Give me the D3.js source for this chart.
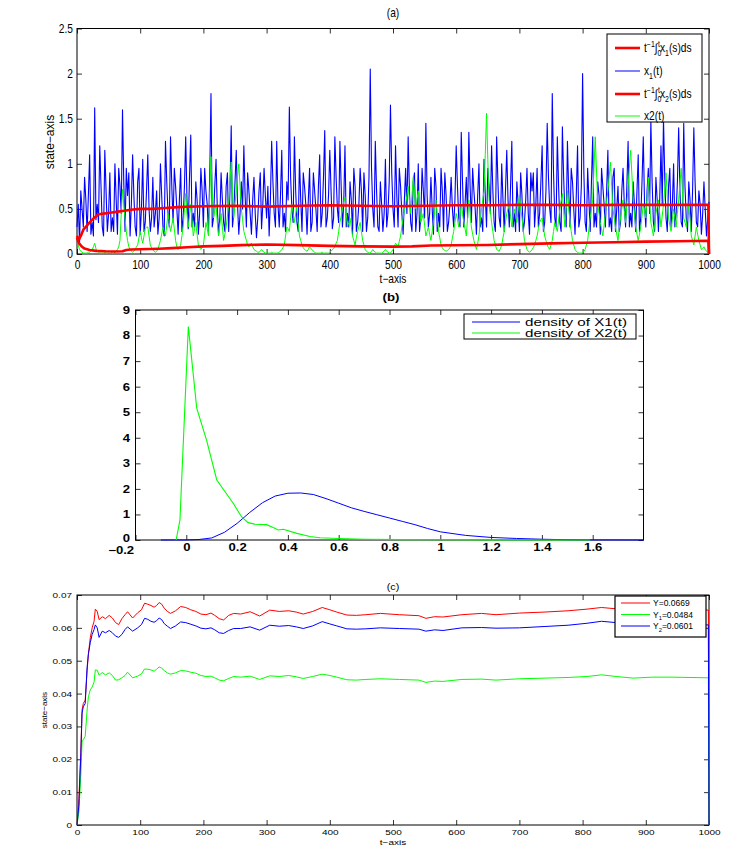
<!DOCTYPE html>
<html>
<head>
<meta charset="utf-8">
<script src="https://cdn.jsdelivr.net/npm/d3@7"></script>
<style>
  body { margin: 0; background: #fff; }
  svg { display: block; }
</style>
</head>
<body>
<svg id="chart" width="751" height="852"></svg>
<script>
// ---------- panel (a): sample paths ----------
// values at t = 0, 4, 8, ..., 1000
const x1Path = [
  0.30, 0.12, 0.50, 0.85, 0.25, 1.10, 0.35, 1.62, 0.55, 1.20,
  0.30, 1.15, 0.25, 0.90, 0.40, 1.00, 0.22, 0.75, 1.60, 0.25,
  0.65, 0.20, 1.10, 0.30, 0.80, 0.22, 1.05, 0.35, 1.10, 0.25,
  0.85, 0.45, 0.22, 1.00, 0.30, 1.25, 0.45, 1.30, 0.35, 0.75,
  0.22, 0.95, 0.40, 1.30, 0.28, 1.32, 0.45, 0.80, 0.22, 0.95,
  0.30, 0.70, 0.25, 1.78, 0.40, 1.05, 0.22, 0.90, 0.35, 0.75,
  0.25, 1.42, 0.45, 1.15, 0.22, 0.80, 1.20, 0.30, 0.70, 0.22,
  0.85, 0.18, 0.70, 0.28, 0.95, 0.40, 0.20, 1.25, 0.45, 1.25,
  0.30, 1.15, 0.45, 0.80, 1.63, 0.50, 1.30, 0.35, 1.05, 0.25,
  0.75, 0.22, 0.95, 0.35, 0.70, 0.25, 1.10, 0.45, 1.37, 0.40,
  1.15, 0.28, 1.30, 0.50, 1.25, 0.30, 1.20, 0.45, 0.80, 0.22,
  0.75, 0.35, 0.95, 0.25, 0.65, 0.40, 2.05, 0.50, 1.25, 0.30,
  0.80, 0.25, 1.05, 0.45, 1.65, 0.50, 1.20, 0.30, 0.75, 0.22,
  0.95, 1.30, 0.35, 0.80, 0.25, 1.00, 0.40, 0.70, 1.45, 0.30,
  0.85, 0.22, 0.75, 0.45, 0.95, 0.25, 0.65, 0.35, 0.85, 0.30,
  1.20, 0.40, 1.35, 0.30, 0.85, 1.35, 0.35, 0.70, 0.22, 1.00,
  0.40, 1.05, 0.30, 0.75, 1.20, 0.35, 1.30, 0.40, 1.00, 0.25,
  1.15, 0.30, 1.25, 0.45, 0.80, 0.25, 0.65, 0.35, 0.95, 0.22,
  0.70, 0.30, 0.95, 0.45, 1.20, 0.35, 1.45, 0.50, 1.78, 0.40,
  1.30, 0.35, 1.41, 0.45, 1.25, 0.30, 0.80, 0.22, 1.20, 0.40,
  2.00, 0.35, 0.95, 0.25, 1.30, 0.45, 0.80, 0.22, 0.75, 0.30,
  1.15, 0.40, 0.85, 0.25, 0.75, 0.35, 0.95, 0.30, 1.25, 0.45,
  0.80, 0.25, 1.10, 0.40, 1.30, 0.30, 0.95, 1.48, 0.35, 0.85,
  0.25, 1.20, 1.50, 0.40, 0.75, 0.30, 1.00, 0.45, 1.40, 0.35,
  1.45, 0.40, 0.80, 0.25, 1.40, 0.35, 0.70, 0.22, 0.80, 0.20,
  0.58
];
// values at t = 2, 6, 10, ..., 998
const x1Mid = [
  0.55, 0.70, 0.30, 0.60, 0.65, 0.22, 0.20, 0.38, 0.35, 0.75,
  0.20, 0.70, 0.45, 0.25, 0.25, 0.60, 0.95, 0.45, 0.80, 0.95,
  0.90, 0.55, 0.65, 0.20, 0.95, 0.50, 0.25, 0.70, 0.50, 0.40,
  0.30, 0.70, 0.40, 0.65, 0.20, 0.80, 0.30, 0.75, 0.95, 0.50,
  0.60, 0.25, 0.75, 0.60, 0.85, 0.30, 0.30, 0.60, 0.45, 0.70,
  0.95, 0.55, 0.85, 0.30, 0.75, 0.50, 0.40, 0.60, 0.25, 0.90,
  0.70, 0.30, 0.80, 0.55, 0.45, 0.50, 0.65, 0.90, 0.45, 0.60,
  0.45, 0.40, 0.90, 0.55, 0.65, 0.75, 0.60, 0.80, 0.30, 0.55,
  0.65, 0.30, 0.25, 0.60, 0.85, 0.35, 0.70, 0.25, 0.60, 0.90,
  0.55, 0.60, 0.25, 0.90, 0.50, 0.75, 0.30, 0.85, 0.30, 0.65,
  0.70, 0.40, 0.85, 0.35, 0.75, 0.55, 0.30, 0.30, 0.60, 0.95,
  0.25, 0.55, 0.70, 0.90, 0.25, 0.85, 0.95, 0.30, 0.70, 0.25,
  0.55, 0.45, 0.30, 0.80, 0.90, 0.30, 0.65, 0.95, 0.45, 0.60,
  0.45, 0.70, 0.25, 0.90, 0.45, 0.25, 0.95, 0.40, 0.65, 0.45,
  0.50, 0.95, 0.25, 0.30, 0.70, 0.90, 0.25, 0.55, 0.50, 0.60,
  0.75, 0.30, 0.80, 0.55, 0.40, 0.75, 0.95, 0.50, 0.65, 0.30,
  0.25, 0.65, 0.95, 0.45, 0.70, 0.25, 0.80, 0.30, 0.60, 0.70,
  0.60, 0.75, 0.30, 0.25, 0.55, 0.90, 0.25, 0.60, 0.45, 0.90,
  0.90, 0.55, 0.30, 0.80, 0.25, 0.70, 0.85, 0.35, 0.90, 0.30,
  0.75, 0.25, 0.85, 0.30, 0.70, 0.95, 0.50, 0.65, 0.30, 0.75,
  0.90, 0.25, 0.60, 0.80, 0.30, 0.30, 0.65, 0.95, 0.55, 0.70,
  0.30, 0.25, 0.95, 0.50, 0.25, 0.70, 0.55, 0.75, 0.30, 0.30,
  0.55, 0.70, 0.25, 0.80, 0.55, 0.70, 0.45, 0.80, 0.25, 0.60,
  0.60, 0.55, 0.85, 0.25, 0.95, 0.55, 0.30, 0.80, 0.70, 0.30,
  0.75, 0.25, 0.60, 0.70, 0.80, 0.30, 0.55, 0.45, 0.50, 0.40
];
const x2Path = [
  0.20, 0.05, 0.02, 0.01, 0.01, 0.02, 0.05, 0.12, 0.03, 0.01,
  0.01, 0.02, 0.01, 0.03, 0.01, 0.02, 0.05, 0.15, 0.72, 0.40,
  0.15, 0.05, 0.02, 0.05, 0.10, 0.25, 0.12, 0.28, 0.30, 0.10,
  0.05, 0.02, 0.05, 0.15, 0.30, 0.20, 0.45, 0.25, 0.40, 0.15,
  0.05, 0.10, 0.30, 0.67, 0.30, 0.55, 0.20, 0.35, 0.10, 0.05,
  0.10, 0.35, 0.20, 1.08, 0.40, 0.55, 0.20, 0.45, 0.15, 0.30,
  0.55, 1.02, 0.40, 0.70, 1.00, 0.50, 0.25, 0.15, 0.08, 0.12,
  0.05, 0.03, 0.02, 0.05, 0.02, 0.01, 0.01, 0.02, 0.01, 0.01,
  0.02, 0.05, 0.10, 0.30, 0.25, 0.55, 0.35, 0.52, 0.20, 0.10,
  0.05, 0.03, 0.08, 0.05, 0.02, 0.01, 0.01, 0.02, 0.01, 0.01,
  0.02, 0.05, 0.08, 0.15, 0.35, 0.50, 0.63, 0.30, 0.40, 0.20,
  0.10, 0.25, 0.35, 0.15, 0.05, 0.02, 0.01, 0.05, 0.02, 0.01,
  0.01, 0.02, 0.05, 0.02, 0.01, 0.05, 0.12, 0.08, 0.20, 0.40,
  0.55, 0.75, 0.45, 0.85, 0.50, 0.70, 0.35, 0.45, 0.20, 0.30,
  0.15, 0.35, 0.60, 0.25, 0.10, 0.05, 0.03, 0.05, 0.10, 0.25,
  0.45, 0.30, 0.55, 0.35, 0.20, 0.60, 0.30, 0.15, 0.05, 0.20,
  0.50, 0.70, 1.56, 0.60, 0.35, 0.15, 0.05, 0.03, 0.10, 0.25,
  0.45, 0.55, 0.30, 0.50, 0.35, 0.65, 0.40, 0.15, 0.05, 0.02,
  0.05, 0.10, 0.20, 0.35, 0.40, 0.20, 0.10, 0.05, 0.15, 0.35,
  0.25, 0.50, 0.67, 0.30, 0.70, 0.35, 0.15, 0.05, 0.02, 0.01,
  0.02, 0.05, 0.15, 0.40, 0.60, 1.30, 0.55, 0.35, 0.20, 0.45,
  0.70, 1.02, 0.50, 0.30, 0.15, 0.40, 0.60, 0.35, 0.75, 1.15,
  0.60, 0.30, 0.15, 0.30, 0.55, 0.40, 0.85, 0.35, 0.20, 0.45,
  0.60, 0.30, 0.55, 0.90, 0.40, 0.25, 0.50, 0.30, 0.60, 0.95,
  0.40, 0.30, 0.55, 0.20, 0.10, 0.30, 0.15, 0.05, 0.08, 0.03,
  0.02
];
const x2Mid = [
  0.10, 0.03, 0.01, 0.01, 0.02, 0.03, 0.08, 0.06, 0.02, 0.01,
  0.01, 0.01, 0.02, 0.02, 0.01, 0.03, 0.08, 0.45, 0.55, 0.25,
  0.08, 0.03, 0.03, 0.08, 0.18, 0.18, 0.20, 0.30, 0.20, 0.07,
  0.03, 0.03, 0.10, 0.22, 0.25, 0.32, 0.35, 0.32, 0.28, 0.08,
  0.07, 0.20, 0.50, 0.45, 0.42, 0.38, 0.28, 0.22, 0.07, 0.07,
  0.22, 0.28, 0.65, 0.70, 0.48, 0.35, 0.32, 0.30, 0.22, 0.42,
  0.80, 0.70, 0.55, 0.85, 0.75, 0.38, 0.20, 0.10, 0.10, 0.08,
  0.04, 0.02, 0.03, 0.03, 0.01, 0.01, 0.01, 0.01, 0.01, 0.01,
  0.03, 0.07, 0.20, 0.28, 0.40, 0.45, 0.45, 0.35, 0.15, 0.07,
  0.04, 0.05, 0.06, 0.03, 0.01, 0.01, 0.01, 0.01, 0.01, 0.01,
  0.03, 0.06, 0.12, 0.25, 0.42, 0.58, 0.45, 0.35, 0.30, 0.15,
  0.18, 0.30, 0.25, 0.10, 0.03, 0.01, 0.03, 0.03, 0.01, 0.01,
  0.01, 0.03, 0.03, 0.01, 0.03, 0.08, 0.10, 0.14, 0.30, 0.48,
  0.65, 0.60, 0.65, 0.68, 0.60, 0.52, 0.40, 0.32, 0.25, 0.22,
  0.25, 0.48, 0.42, 0.18, 0.07, 0.04, 0.04, 0.07, 0.18, 0.35,
  0.38, 0.42, 0.45, 0.28, 0.40, 0.45, 0.22, 0.10, 0.12, 0.35,
  0.60, 1.10, 1.05, 0.48, 0.25, 0.10, 0.04, 0.06, 0.18, 0.35,
  0.50, 0.42, 0.40, 0.42, 0.50, 0.52, 0.28, 0.10, 0.03, 0.03,
  0.07, 0.15, 0.28, 0.38, 0.30, 0.15, 0.07, 0.10, 0.25, 0.30,
  0.38, 0.58, 0.48, 0.50, 0.52, 0.25, 0.10, 0.03, 0.01, 0.01,
  0.03, 0.10, 0.28, 0.50, 0.95, 0.92, 0.45, 0.28, 0.32, 0.58,
  0.85, 0.75, 0.40, 0.22, 0.28, 0.50, 0.48, 0.55, 0.95, 0.88,
  0.45, 0.22, 0.22, 0.42, 0.48, 0.62, 0.60, 0.28, 0.32, 0.52,
  0.45, 0.42, 0.72, 0.65, 0.32, 0.38, 0.40, 0.45, 0.78, 0.68,
  0.35, 0.42, 0.38, 0.15, 0.20, 0.22, 0.10, 0.06, 0.05, 0.02
];

// running means (smooth, read at irregular times)
const mean1T = [0, 3, 6, 10, 15, 20, 27, 34, 45, 55, 65, 75, 85, 100, 120, 140, 160, 180, 200, 250,
                300, 350, 400, 450, 500, 550, 600, 650, 700, 750, 800, 850, 900, 950, 999, 1000];
const mean1 = [0.20, 0.16, 0.20, 0.27, 0.31, 0.35, 0.40, 0.44, 0.45, 0.46, 0.47, 0.48, 0.49, 0.50, 0.50, 0.51, 0.52, 0.525, 0.53, 0.535,
               0.525, 0.535, 0.54, 0.535, 0.53, 0.535, 0.54, 0.54, 0.545, 0.545, 0.54, 0.545, 0.545, 0.545, 0.545, 0];
const mean2T = [0, 3, 8, 12, 20, 30, 45, 60, 72, 78, 85, 100, 130, 150, 175, 200, 230, 260, 300, 350,
                400, 450, 500, 530, 560, 600, 650, 700, 750, 800, 850, 900, 950, 999, 1000];
const mean2 = [0.18, 0.12, 0.08, 0.06, 0.045, 0.035, 0.03, 0.028, 0.03, 0.045, 0.05, 0.052, 0.058, 0.065, 0.075, 0.085, 0.09, 0.098, 0.105, 0.098,
               0.09, 0.085, 0.082, 0.085, 0.095, 0.097, 0.10, 0.11, 0.118, 0.125, 0.13, 0.137, 0.142, 0.147, 0];

const aTicksX = [0, 100, 200, 300, 400, 500, 600, 700, 800, 900, 1000];
const aTicksY = [0, 0.5, 1, 1.5, 2, 2.5];

// ---------- panel (b): densities ----------
const dens1X = [-0.1, 0, 0.05, 0.1, 0.15, 0.2, 0.25, 0.3, 0.35, 0.4, 0.45, 0.5, 0.55, 0.6, 0.65, 0.7, 0.75, 0.8, 0.85, 0.9,
                0.95, 1.0, 1.05, 1.1, 1.2, 1.3, 1.4, 1.5, 1.6, 1.8];
const dens1Y = [0, 0.003, 0.02, 0.08, 0.3, 0.65, 1.08, 1.46, 1.72, 1.83, 1.84, 1.78, 1.62, 1.44, 1.26, 1.12, 0.99, 0.86, 0.73, 0.6,
                0.45, 0.32, 0.25, 0.18, 0.1, 0.06, 0.03, 0.01, 0.003, 0];
const dens2X = [-0.04, -0.025, 0.008, 0.041, 0.08, 0.12, 0.152, 0.184, 0.218, 0.243, 0.27, 0.316, 0.34, 0.362, 0.382,
                0.435, 0.487, 0.526, 0.6, 0.7, 0.85, 1.0, 1.2, 1.4, 1.59];
const dens2Y = [0, 0.78, 8.35, 5.16, 3.9, 2.35, 1.9, 1.45, 0.9, 0.68, 0.62, 0.6, 0.5, 0.39, 0.42,
                0.26, 0.14, 0.09, 0.06, 0.03, 0.015, 0.01, 0.005, 0.002, 0];
const bTicksX = [-0.2, 0, 0.2, 0.4, 0.6, 0.8, 1, 1.2, 1.4, 1.6];
const bTicksY = [0, 1, 2, 3, 4, 5, 6, 7, 8, 9];

// ---------- panel (c): time averages ----------
const cT = [0, 3, 6, 8, 10, 13, 16, 18, 21, 24,
            27, 29, 32, 35, 40, 45, 51, 56, 61, 66,
            71, 76, 80, 88, 96, 102, 107, 112, 117, 122,
            126, 130, 134, 138, 143, 148, 156, 164, 172, 180,
            188, 196, 204, 212, 218, 225, 232, 240, 248, 259,
            274, 289, 305, 320, 335, 347, 358, 373, 388, 400,
            411, 427, 442, 457, 480, 510, 541, 552, 566, 579,
            609, 640, 663, 700, 739, 777, 807, 830, 853, 880,
            910, 940, 970, 999, 1000];
const yAll = [0.000, 0.008, 0.022, 0.035, 0.037, 0.038, 0.047, 0.052, 0.057, 0.060,
              0.062, 0.0657, 0.0650, 0.0625, 0.0634, 0.0628, 0.0638, 0.0630, 0.0616, 0.0610,
              0.0628, 0.0640, 0.0649, 0.0630, 0.0646, 0.0655, 0.0675, 0.0672, 0.0668, 0.0663,
              0.0668, 0.0677, 0.0672, 0.0660, 0.0650, 0.0644, 0.0652, 0.0665, 0.0662, 0.0655,
              0.0650, 0.0642, 0.0640, 0.0645, 0.0638, 0.0628, 0.0624, 0.0638, 0.0644, 0.0642,
              0.0649, 0.0636, 0.0654, 0.0650, 0.0652, 0.0648, 0.0642, 0.0650, 0.0662, 0.0655,
              0.0648, 0.0639, 0.0638, 0.0640, 0.0644, 0.0640, 0.0637, 0.0629, 0.0634, 0.0633,
              0.0640, 0.0644, 0.0640, 0.0645, 0.0648, 0.0652, 0.0657, 0.0662, 0.0658, 0.0652,
              0.0650, 0.0655, 0.0656, 0.0654, 0];
const y1All = [0.000, 0.004, 0.015, 0.0253, 0.026, 0.027, 0.035, 0.039, 0.0411, 0.042,
               0.0435, 0.0472, 0.0471, 0.0456, 0.0464, 0.0457, 0.0463, 0.0455, 0.0441, 0.0442,
               0.0448, 0.0455, 0.0465, 0.0448, 0.0453, 0.0460, 0.0475, 0.0474, 0.0472, 0.0468,
               0.0474, 0.0481, 0.0477, 0.0470, 0.0463, 0.0459, 0.0463, 0.0470, 0.0469, 0.0465,
               0.0462, 0.0455, 0.0452, 0.0453, 0.0448, 0.0441, 0.0439, 0.0446, 0.0452, 0.0450,
               0.0453, 0.0443, 0.0454, 0.0452, 0.0455, 0.0451, 0.0446, 0.0452, 0.0459, 0.0455,
               0.0450, 0.0442, 0.0441, 0.0443, 0.0445, 0.0443, 0.0441, 0.0434, 0.0438, 0.0437,
               0.0443, 0.0444, 0.0441, 0.0445, 0.0447, 0.0449, 0.0452, 0.0457, 0.0452, 0.0447,
               0.0450, 0.0450, 0.0449, 0.0448, 0];
const y2All = [0.000, 0.006, 0.021, 0.034, 0.036, 0.037, 0.048, 0.052, 0.0555, 0.058,
               0.0595, 0.0609, 0.0600, 0.0571, 0.0590, 0.0585, 0.0592, 0.0585, 0.0575, 0.0571,
               0.0580, 0.0595, 0.0603, 0.0590, 0.0600, 0.0610, 0.0629, 0.0626, 0.0620, 0.0617,
               0.0622, 0.0630, 0.0625, 0.0613, 0.0605, 0.0598, 0.0606, 0.0618, 0.0616, 0.0611,
               0.0606, 0.0599, 0.0597, 0.0600, 0.0594, 0.0585, 0.0583, 0.0592, 0.0598, 0.0598,
               0.0603, 0.0593, 0.0608, 0.0605, 0.0607, 0.0603, 0.0598, 0.0606, 0.0619, 0.0612,
               0.0606, 0.0597, 0.0596, 0.0597, 0.0600, 0.0598, 0.0596, 0.0590, 0.0594, 0.0592,
               0.0600, 0.0601, 0.0599, 0.0600, 0.0604, 0.0608, 0.0614, 0.0620, 0.0616, 0.0612,
               0.0609, 0.0611, 0.0610, 0.0609, 0];
const cTicksX = [0, 100, 200, 300, 400, 500, 600, 700, 800, 900, 1000];
const cTicksY = [0, 0.01, 0.02, 0.03, 0.04, 0.05, 0.06, 0.07];

const FONT = "'Liberation Sans', Arial, Helvetica, sans-serif";
const RED = "#ff0000", BLUE = "#0000ff", GREEN = "#00ff00";

const svg = d3.select("#chart");

// boxed MATLAB-style axes with inward ticks on all four sides
function boxAxes(x, y, cfg) {
  const g = svg.append("g");
  const [x0, x1] = x.range();
  const [y0, y1] = y.range();
  const bottom = g.append("g").attr("transform", `translate(0,${y0})`)
    .call(d3.axisBottom(x).tickValues(cfg.xTicks).tickSize(-5).tickPadding(cfg.padX).tickFormat(cfg.fmtX));
  g.append("g").attr("transform", `translate(0,${y1})`)
    .call(d3.axisTop(x).tickValues(cfg.xTicks).tickSize(-5).tickFormat(""));
  const left = g.append("g").attr("transform", `translate(${x0},0)`)
    .call(d3.axisLeft(y).tickValues(cfg.yTicks).tickSize(-5).tickPadding(cfg.padY).tickFormat(cfg.fmtY));
  g.append("g").attr("transform", `translate(${x1},0)`)
    .call(d3.axisRight(y).tickValues(cfg.yTicks).tickSize(-5).tickFormat(""));
  g.selectAll(".domain").remove();
  g.selectAll(".tick line").attr("stroke", "#333");
  g.selectAll("text")
    .attr("font-family", FONT)
    .attr("font-size", cfg.fs)
    .attr("font-weight", cfg.fw || "normal")
    .attr("fill", "#000");
  bottom.selectAll("text").attr("transform", `scale(${cfg.sx},1)`);
  left.selectAll("text").attr("x", -cfg.padY / cfg.sx).attr("transform", `scale(${cfg.sx},1)`);
  g.append("rect")
    .attr("x", x0).attr("y", y1)
    .attr("width", x1 - x0).attr("height", y0 - y1)
    .attr("fill", "none").attr("stroke", "#000").attr("stroke-width", 1);
  return { g, bottom, left };
}

function label(txt, x, y, fs, sx, opts = {}) {
  return svg.append("text")
    .attr("transform", `translate(${x},${y})${opts.rotate ? " rotate(-90)" : ""} scale(${sx},1)`)
    .attr("text-anchor", "middle")
    .attr("font-family", FONT)
    .attr("font-size", fs)
    .attr("font-weight", opts.fw || "normal")
    .attr("fill", "#000")
    .text(txt);
}

// text with sub/superscripts (MATLAB tex style)
function rich(x, y, parts, fs, sx) {
  const t = svg.append("text")
    .attr("transform", `translate(${x},${y}) scale(${sx},1)`)
    .attr("font-family", FONT)
    .attr("font-size", fs)
    .attr("fill", "#000");
  let level = 0;
  parts.forEach(p => {
    const target = p.sub ? fs * 0.32 : p.sup ? -fs * 0.42 : 0;
    const s = t.append("tspan")
      .attr("dy", target - level)
      .attr("font-size", (p.sub || p.sup) ? fs * 0.68 : fs)
      .text(p.t);
    if (p.dx) s.attr("dx", p.dx);
    level = target;
  });
  return t;
}

const plain = d => String(d);

// ================= (a) =================
const xA = d3.scaleLinear().domain([0, 1000]).range([77, 709]);
const yA = d3.scaleLinear().domain([0, 2.5]).range([254, 28.5]);

boxAxes(xA, yA, { xTicks: aTicksX, yTicks: aTicksY, fmtX: plain, fmtY: plain,
                  fs: 12, sx: 0.85, padX: 6.5, padY: 4 });

// merge the two sample grids (t = 0,4,.. and t = 2,6,..) into one path
const mergePaths = (even, odd) => {
  const pts = [];
  even.forEach((v, i) => {
    pts.push([i * 4, v]);
    if (i < odd.length) pts.push([i * 4 + 2, odd[i]]);
  });
  return pts;
};

const lineA = d3.line().x(d => xA(d[0])).y(d => yA(d[1]));
const drawA = (pts, color, w) => svg.append("path")
  .attr("d", lineA(pts))
  .attr("fill", "none").attr("stroke", color).attr("stroke-width", w)
  .attr("stroke-linejoin", "round");

drawA(mergePaths(x1Path, x1Mid), BLUE, 1.1);
drawA(mergePaths(x2Path, x2Mid), GREEN, 1);
drawA(mean1T.map((t, i) => [t, mean1[i]]), RED, 2.6);
drawA(mean2T.map((t, i) => [t, mean2[i]]), RED, 2.6);

label("(a)", 393, 17, 12, 0.85);
label("t\u2212axis", 393, 283, 12, 0.85);
label("state\u2212axis", 54, 142, 12, 1, { rotate: true });

// legend (a)
svg.append("rect").attr("x", 607).attr("y", 34).attr("width", 95).attr("height", 88)
  .attr("fill", "#fff").attr("stroke", "#000");
const legA = [
  { y: 48, c: RED, w: 2.6, parts: [{ t: "t" }, { t: "\u22121", sup: 1 }, { t: "\u222B" }, { t: "0", sub: 1 }, { t: "t", sup: 1, dx: -4 }, { t: "x" }, { t: "1", sub: 1 }, { t: "(s)ds" }] },
  { y: 71, c: BLUE, w: 1, parts: [{ t: "x" }, { t: "1", sub: 1 }, { t: "(t)" }] },
  { y: 94, c: RED, w: 2.6, parts: [{ t: "t" }, { t: "\u22121", sup: 1 }, { t: "\u222B" }, { t: "0", sub: 1 }, { t: "t", sup: 1, dx: -4 }, { t: "x" }, { t: "2", sub: 1 }, { t: "(s)ds" }] },
  { y: 116, c: GREEN, w: 1, parts: [{ t: "x2(t)" }] }
];
legA.forEach(e => {
  svg.append("line").attr("x1", 615).attr("x2", 640).attr("y1", e.y).attr("y2", e.y)
    .attr("stroke", e.c).attr("stroke-width", e.w);
  rich(644, e.y + 4, e.parts, 12, 0.85);
});

// ================= (b) =================
const xB = d3.scaleLinear().domain([-0.2, 1.8]).range([135.5, 643.5]);
const yB = d3.scaleLinear().domain([0, 9]).range([540, 310]);

const axB = boxAxes(xB, yB, { xTicks: bTicksX, yTicks: bTicksY,
                  fmtX: d => String(d).replace("-", "\u2212"), fmtY: plain,
                  fs: 10.5, fw: "bold", sx: 1.25, padX: 4, padY: 5.5 });
// keep the corner labels "0" and "−0.2" apart
axB.bottom.selectAll("text").filter(d => d < 0)
  .attr("text-anchor", "end").attr("dx", -1.5).attr("y", 6.5);
axB.left.selectAll("text").filter(d => d === 0).attr("dy", "0.16em");

const lineB = d3.line().x(d => xB(d[0])).y(d => yB(d[1]));
svg.append("path").attr("d", lineB(dens1X.map((v, i) => [v, dens1Y[i]])))
  .attr("fill", "none").attr("stroke", BLUE).attr("stroke-width", 1);
svg.append("path").attr("d", lineB(dens2X.map((v, i) => [v, dens2Y[i]])))
  .attr("fill", "none").attr("stroke", GREEN).attr("stroke-width", 1.1);

label("(b)", 391, 301, 11, 1.2, { fw: "bold" });

svg.append("rect").attr("x", 464).attr("y", 314).attr("width", 172).attr("height", 25)
  .attr("fill", "#fff").attr("stroke", "#000");
[["density of X1(t)", BLUE, 322], ["density of X2(t)", GREEN, 333]].forEach(([txt, c, y]) => {
  svg.append("line").attr("x1", 472).attr("x2", 520).attr("y1", y).attr("y2", y)
    .attr("stroke", c).attr("stroke-width", 1);
  svg.append("text").attr("transform", `translate(525,${y + 3.8}) scale(1.38,1)`)
    .attr("font-family", FONT).attr("font-size", 11).attr("fill", "#000").text(txt);
});

// ================= (c) =================
const xC = d3.scaleLinear().domain([0, 1000]).range([77, 709]);
const yC = d3.scaleLinear().domain([0, 0.07]).range([825, 595]);

boxAxes(xC, yC, { xTicks: cTicksX, yTicks: cTicksY, fmtX: plain,
                  fmtY: d => d === 0 ? "0" : d.toFixed(2),
                  fs: 8, sx: 1.25, padX: 4.3, padY: 5 });

const lineC = d3.line().x(d => xC(d[0])).y(d => yC(d[1]));
[[yAll, RED], [y1All, GREEN], [y2All, BLUE]].forEach(([vs, c]) => {
  svg.append("path").attr("d", lineC(cT.map((t, i) => [t, vs[i]])))
    .attr("fill", "none").attr("stroke", c).attr("stroke-width", 1);
});

label("(c)", 393, 590, 9, 1.2);
label("t\u2212axis", 393, 845, 8, 1.25);
label("state\u2212axis", 47, 710, 8, 1, { rotate: true });

svg.append("rect").attr("x", 615).attr("y", 596).attr("width", 91).attr("height", 41)
  .attr("fill", "#fff").attr("stroke", "#000").attr("stroke-width", 1.2);
const legC = [
  { y: 603, c: RED, parts: [{ t: "Y=0.0669" }] },
  { y: 614.5, c: GREEN, parts: [{ t: "Y" }, { t: "1", sub: 1 }, { t: "=0.0484" }] },
  { y: 626, c: BLUE, parts: [{ t: "Y" }, { t: "2", sub: 1 }, { t: "=0.0601" }] }
];
legC.forEach(e => {
  svg.append("line").attr("x1", 621).attr("x2", 650).attr("y1", e.y).attr("y2", e.y)
    .attr("stroke", e.c).attr("stroke-width", 1);
  rich(653, e.y + 3, e.parts, 8.5, 1);
});
</script>
</body>
</html>
